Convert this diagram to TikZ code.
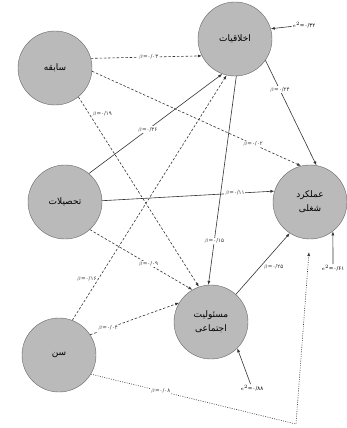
\documentclass[tikz,border=0pt]{standalone}
\usepackage{fontspec}
\setmainfont{DejaVu Sans}
\newfontfamily\farsi[Script=Arabic]{DejaVu Sans}
\TeXXeTstate=1
\usepackage{tikz}
\usetikzlibrary{arrows.meta}
\colorlet{circgray}{black!27}
\colorlet{rimgray}{black!60}
\colorlet{linegray}{black!80}
\tikzset{
	factor/.style={circle,draw=rimgray,fill=circgray,minimum size=74pt,inner sep=0pt,align=center,font=\farsi\fontsize{9}{14}\selectfont},
	coef/.style={inner sep=0.8pt,font=\fontsize{5.5}{6}\selectfont},
	oncoef/.style={coef,fill=white},
	effect/.style={linegray,line width=0.6pt,-{Latex[length=4pt,width=3pt]}},
	weak/.style={effect,dash pattern=on 2.5pt off 1.8pt},
	faint/.style={effect,dash pattern=on 0.9pt off 1.4pt}
}
\newcommand\bet[1]{$\beta$={\farsi #1}}
\newcommand\err[1]{$e^2$={\farsi #1}}

\begin{document}
\begin{tikzpicture}[x=1pt,y=-1pt]
	\useasboundingbox (0,0) rectangle (347,428);
	\node[factor] (sabeghe) at (55,68) {\beginR سابقه\endR};
	\node[factor] (akhlagh) at (235,39) {\beginR اخلاقیات\endR};
	\node[factor] (tahsil) at (65,202) {\beginR تحصیلات\endR};
	\node[factor] (amalkard) at (310,202) {\beginR عملکرد\endR\\\beginR شغلی\endR};
	\node[factor] (masuliat) at (211,322) {\beginR مسئولیت\endR\\\beginR اجتماعی\endR};
	\node[factor] (sen) at (59,355) {\beginR سن\endR};
	\coordinate (senbend) at (296,424);
	\coordinate (sentip) at (309,252);

	\draw[weak] (sabeghe.15) -- node[oncoef,pos=0.52]{\bet{۰/۰۳}} (akhlagh.207);
	\draw[weak] (sabeghe.-5) -- node[oncoef,pos=0.77]{\bet{۰/۰۲}} (amalkard.104);
	\draw[weak] (sabeghe.-51) -- node[coef,pos=0.09,right=2pt]{\bet{۰/۱۹}} (masuliat.109);
	\draw[effect] (tahsil.50) -- node[oncoef,pos=0.44]{\bet{۰/۳۶}} (akhlagh.250);
	\draw[effect] (tahsil.2) -- node[oncoef,pos=0.77]{\bet{۰/۱۱}} (amalkard.163);
	\draw[weak] (tahsil.-48) -- node[oncoef,pos=0.57]{\bet{۰/۰۹}} (masuliat.120);
	\draw[weak] (sen.69) -- node[coef,pos=0.17,left=1pt]{\bet{۰/۱۶}} (akhlagh.257);
	\draw[weak] (sen.33) -- node[oncoef,pos=0.2]{\bet{۰/۰۴}} (masuliat.149);
	\draw[faint] (sen.-31) -- node[oncoef,pos=0.34]{\bet{۰/۰۸}} (senbend) -- (sentip);
	\draw[effect] (akhlagh.-35) -- node[oncoef,pos=0.28]{\bet{۰/۲۴}} (amalkard.80);
	\draw[effect] (akhlagh.272) -- node[oncoef,pos=0.79]{\bet{۰/۱۵}} (masuliat.94);
	\draw[effect] (masuliat.48) -- node[coef,pos=0.44,right=3pt]{\bet{۰/۲۵}} (amalkard.237);

	\node[coef] (eakhlagh) at (304,25) {\err{۰/۳۲}};
	\node[coef] (emasul) at (252,388) {\err{۰/۸۸}};
	\node[coef] (eamal) at (333,268) {\err{۰/۶۱}};
	\draw[effect] (eakhlagh) -- (akhlagh.16);
	\draw[effect] (emasul) -- (masuliat.-45);
	\draw[effect] (eamal) -- (amalkard.-52);
\end{tikzpicture}
\end{document}
